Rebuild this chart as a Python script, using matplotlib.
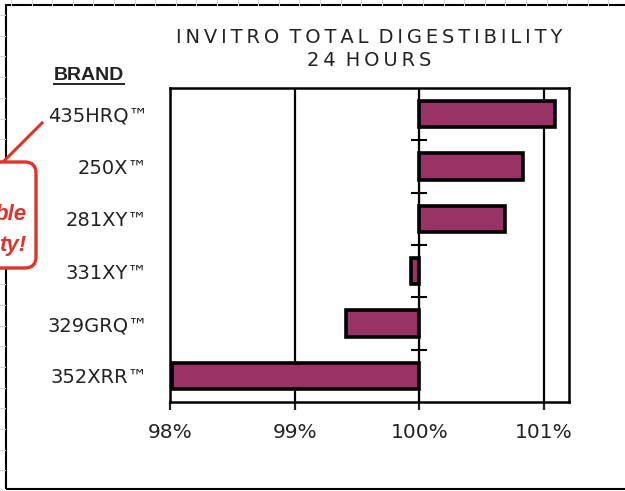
import numpy as np
import matplotlib
matplotlib.use("Agg")
import matplotlib.pyplot as plt
from matplotlib.patches import FancyBboxPatch, Rectangle
from matplotlib.lines import Line2D
from matplotlib.transforms import IdentityTransform
from matplotlib.ticker import PercentFormatter

brands = ["435HRQ\u2122", "250X\u2122", "281XY\u2122", "331XY\u2122", "329GRQ\u2122", "352XRR\u2122"]
digestibility = [101.09, 100.83, 100.69, 99.93, 99.41, 98.02]  # % of baseline
baseline = 100
x_ticks = [98, 99, 100, 101]
x_range = (98, 101.2)
title_lines = ["INVITRO TOTAL DIGESTIBILITY", "24 HOURS"]

W, H = 625, 491
fig = plt.figure(figsize=(W / 100, H / 100), dpi=100)
plt.rcParams['font.family'] = ['DejaVu Sans']


def px(x, y):
    # pixel coords (top-left origin) -> display coords
    return x, H - y


def spaced(s):
    # mimic the wide letter spacing of the original title
    return '\u2009 '.join('\u2009'.join(w) for w in s.split(' '))


# spreadsheet cell lines around the pasted chart
for gx in np.arange(11, W, 20.6):
    fig.add_artist(Line2D([gx, gx], [H, H - 5], transform=IdentityTransform(), color='#d4d4d4', lw=0.8))
for gy in np.arange(15, H, 20.7):
    fig.add_artist(Line2D([0, 5], [H - gy, H - gy], transform=IdentityTransform(), color='#d4d4d4', lw=0.8))

# outer frame of the chart object
fig.add_artist(Rectangle(px(5.5, 489), W, 484, transform=IdentityTransform(),
                         fill=False, edgecolor='black', lw=1.5))

ax = fig.add_axes([170 / W, 1 - 402 / H, 399 / W, 314 / H])
y = np.arange(len(brands))
ax.barh(y, np.array(digestibility) - baseline, left=baseline, height=0.5,
        color='#993366', edgecolor='black', linewidth=2.6, zorder=3)
ax.set_xlim(*x_range)
ax.set_ylim(len(brands) - 0.5, -0.5)
ax.set_xticks(x_ticks)
ax.xaxis.set_major_formatter(PercentFormatter(decimals=0))
ax.set_yticks(y, brands)
ax.grid(axis='x', color='black', lw=1.6, zorder=1)
for s in ax.spines.values():
    s.set_linewidth(1.8)
ax.tick_params(axis='x', direction='out', length=6, width=1.6, pad=9, labelsize=14.5, colors='#222222')
ax.tick_params(axis='y', length=0, pad=16, labelsize=14, labelcolor='#222222')

# category axis crossing at 100%
sec = ax.secondary_yaxis((baseline - x_range[0]) / (x_range[1] - x_range[0]))
sec.set_yticks(y[:-1] + 0.5)
sec.tick_params(direction='inout', length=11, width=1.5, labelleft=False, labelright=False)
sec.spines['left'].set_linewidth(1.0)
sec.spines['left'].set_color('#333333')

fig.text(369.5 / W, 1 - 49 / H, "\n".join(spaced(t) for t in title_lines),
         ha='center', va='center', fontsize=14, color='#222222', linespacing=1.3)

fig.text(89 / W, 1 - 75.5 / H, "BRAND", ha='center', va='center', fontsize=14,
         fontweight='bold', family='Liberation Sans', color='#222222')
fig.add_artist(Line2D([54, 124], [H - 84, H - 84], transform=IdentityTransform(), color='#222222', lw=1.4))

# callout box cut off by the crop
red = '#e0332b'
fig.add_artist(Line2D([42, 2], [H - 123, H - 163], transform=IdentityTransform(), color=red, lw=2.2, zorder=5))
fig.add_artist(FancyBboxPatch((-80, H - 268), 116, 106, boxstyle='round,pad=0,rounding_size=11',
                              transform=IdentityTransform(), facecolor='white', edgecolor=red, lw=2.4, zorder=5))
fig.text(27 / W, 1 - 215 / H, "ble", ha='right', va='center', fontsize=16, color=red,
         fontweight='bold', fontstyle='italic', family='Liberation Sans', zorder=6)
fig.text(26 / W, 1 - 246 / H, "ty!", ha='right', va='center', fontsize=16, color=red,
         fontweight='bold', fontstyle='italic', family='Liberation Sans', zorder=6)

fig.savefig('out.png', dpi=100)
